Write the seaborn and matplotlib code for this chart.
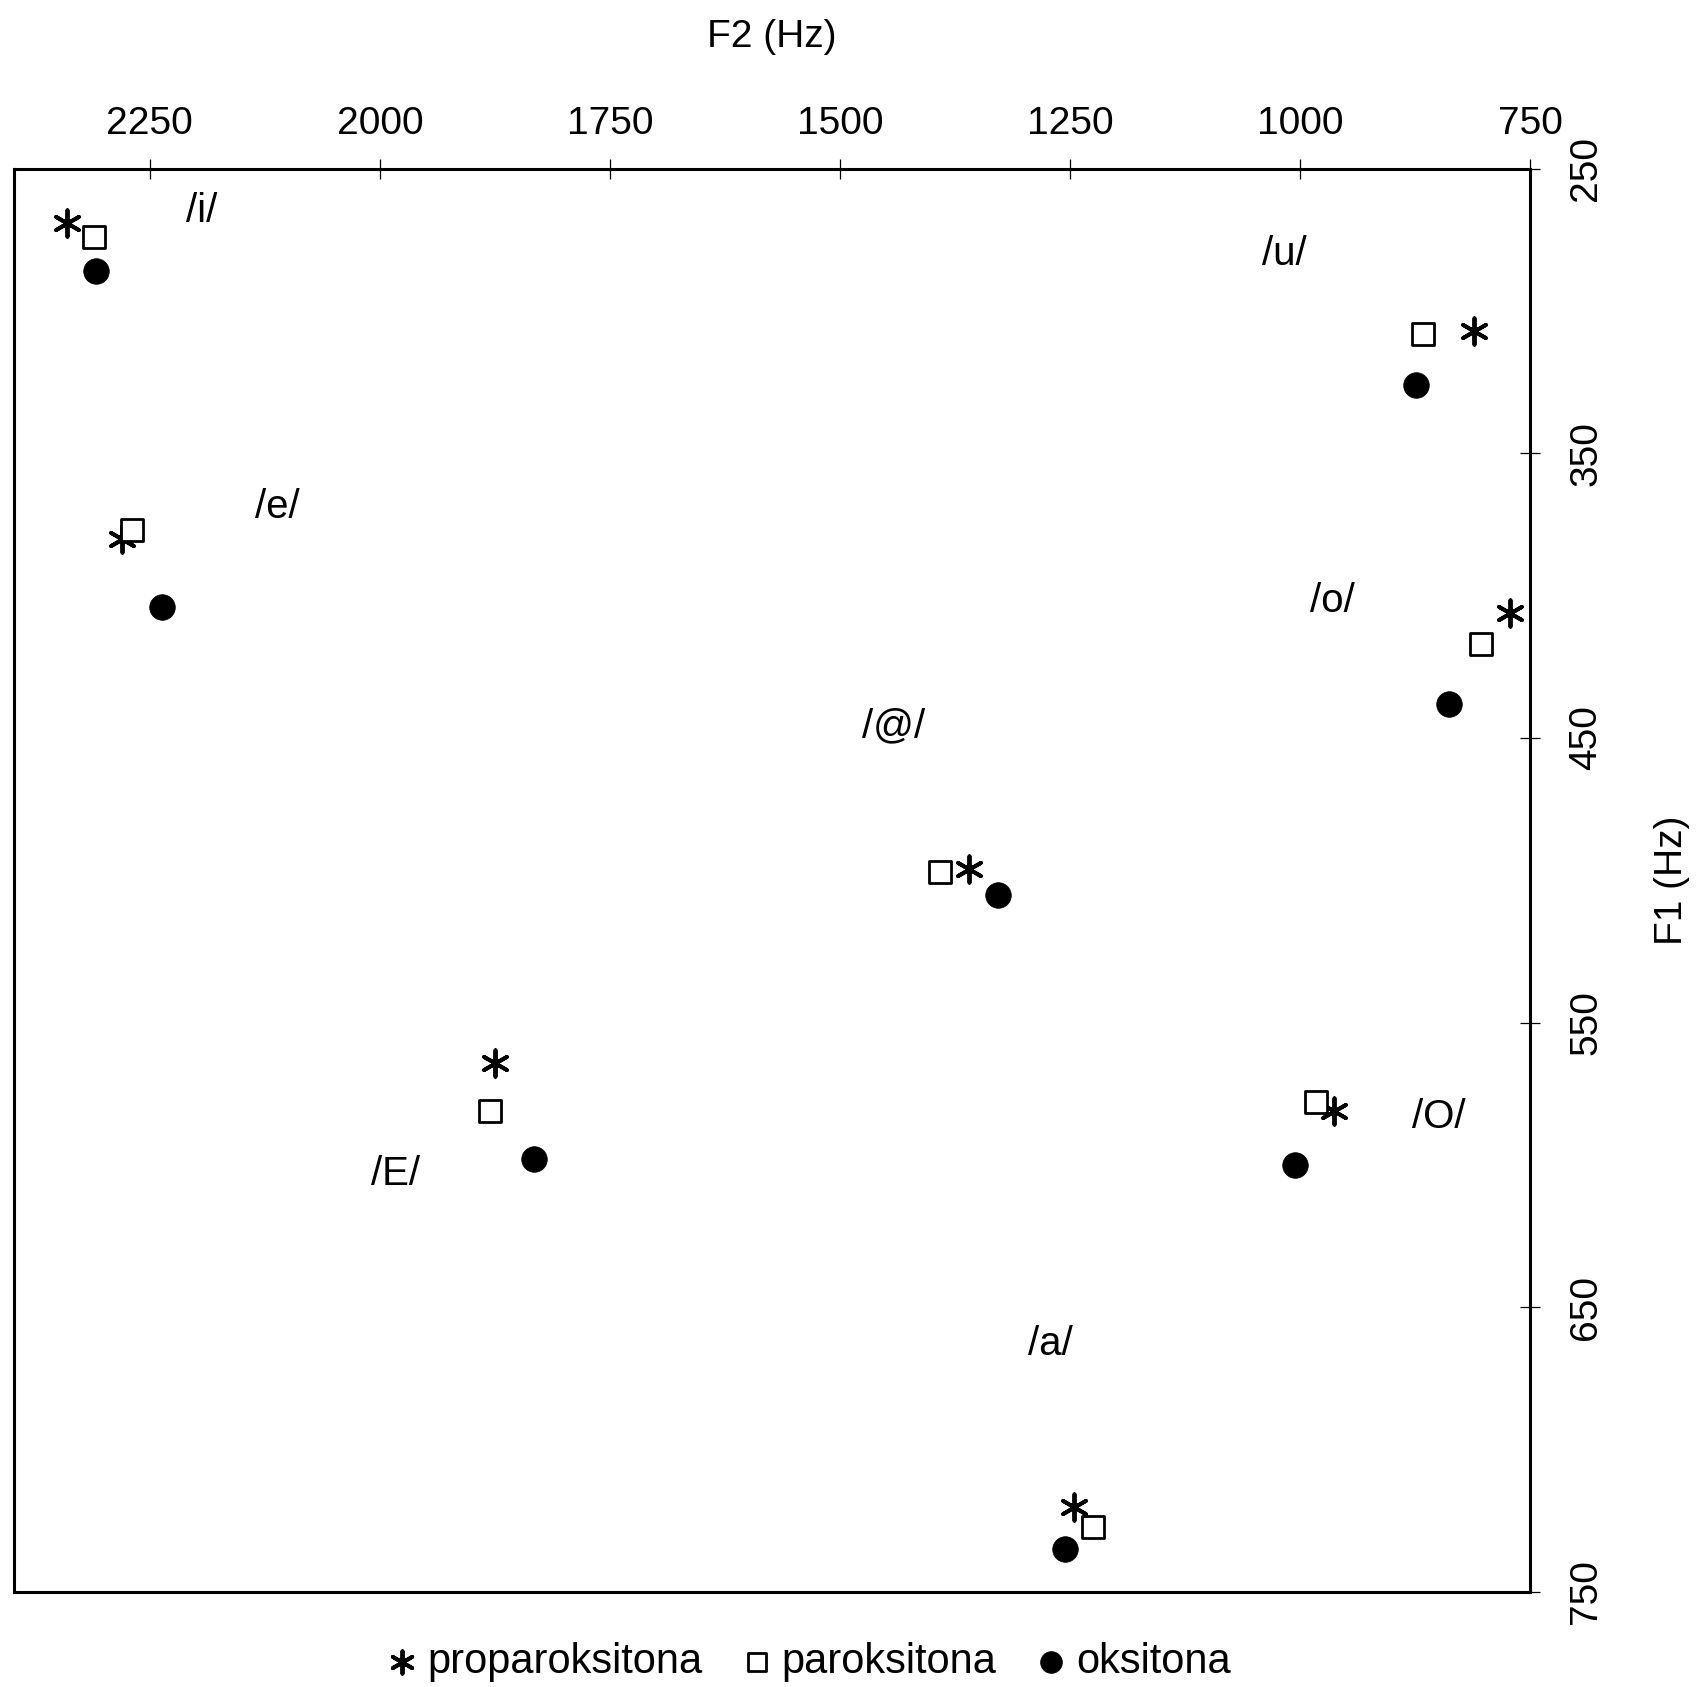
import numpy as np
import pandas as pd
import matplotlib
matplotlib.use("Agg")
import matplotlib.pyplot as plt
import seaborn as sns

# Formant data (Hz), per vowel and stress type
vowels = ["i", "e", "E", "@", "a", "O", "o", "u"]
f2_proparoksitona = [2340, 2280, 1875, 1360, 1246, 963, 772, 811]
f1_proparoksitona = [269, 380, 564, 496, 720, 581, 406, 307]
f2_paroksitona = [2311, 2269, 1880, 1391, 1225, 983, 803, 866]
f1_paroksitona = [274, 377, 581, 497, 727, 578, 417, 308]
f2_oksitona = [2308, 2237, 1832, 1328, 1256, 1006, 838, 874]
f1_oksitona = [286, 404, 598, 505, 735, 600, 438, 326]

# where the vowel labels sit
label_text = ["/i/", "/e/", "/E/", "/@/", "/a/", "/O/", "/o/", "/u/"]
label_f2 = [2194, 2112, 1983, 1442, 1271, 849, 965, 1017]
label_f1 = [265, 369, 603, 446, 663, 583, 402, 280]

x_ticks = [750, 1000, 1250, 1500, 1750, 2000, 2250]
y_ticks = [250, 350, 450, 550, 650, 750]

sns.set_theme(style="white")
plt.rcParams["font.family"] = ["Liberation Sans", "DejaVu Sans"]
plt.rcParams["text.color"] = "black"
plt.rcParams["axes.labelcolor"] = "black"
plt.rcParams["xtick.color"] = "black"
plt.rcParams["ytick.color"] = "black"

df = pd.concat([
    pd.DataFrame({"vowel": vowels, "F2": f2_proparoksitona, "F1": f1_proparoksitona, "stress": "proparoksitona"}),
    pd.DataFrame({"vowel": vowels, "F2": f2_paroksitona, "F1": f1_paroksitona, "stress": "paroksitona"}),
    pd.DataFrame({"vowel": vowels, "F2": f2_oksitona, "F1": f1_oksitona, "stress": "oksitona"}),
], ignore_index=True)

styles = {
    "proparoksitona": dict(marker=(6, 2, 0), s=360, color="black", linewidths=2.8),
    "paroksitona": dict(marker="s", s=256, facecolor="white", edgecolor="black", linewidth=2.0),
    "oksitona": dict(marker="o", s=340, color="black", edgecolor="black", linewidth=0.5),
}

fig = plt.figure(figsize=(17.04, 16.87), dpi=100)
ax = fig.add_axes([0.008, 0.0563, 0.890, 0.8437])

for stress in ["proparoksitona", "paroksitona", "oksitona"]:
    sub = df[df["stress"] == stress]
    sns.scatterplot(data=sub, x="F2", y="F1", ax=ax, label=stress, legend=False,
                    zorder=3, **styles[stress])

for t, x, y in zip(label_text, label_f2, label_f1):
    ax.text(x, y, t, ha="center", va="center", fontsize=29)

ax.set_xlim(2398, 750)
ax.set_ylim(750, 250)
ax.set_xticks(x_ticks)
ax.set_yticks(y_ticks)

ax.xaxis.set_label_position("top")
ax.xaxis.tick_top()
ax.yaxis.set_label_position("right")
ax.yaxis.tick_right()
ax.set_xlabel("F2 (Hz)", fontsize=28, labelpad=42)
ax.set_ylabel("F1 (Hz)", fontsize=28, labelpad=36, rotation=90)

ax.tick_params(axis="both", direction="inout", length=15, width=0.9,
               labelsize=28, color="black", labelcolor="black")
ax.tick_params(axis="x", bottom=False, top=True, pad=12)
ax.tick_params(axis="y", left=False, right=True, pad=20)
plt.setp(ax.get_yticklabels(), rotation=90, va="center")

for sp in ax.spines.values():
    sp.set_linewidth(2.2)
    sp.set_color("black")

handles, labels = ax.get_legend_handles_labels()
fig.legend(handles, labels, loc="lower center", bbox_to_anchor=(0.473, -0.019),
           ncol=3, frameon=False, fontsize=30, markerscale=0.85,
           handletextpad=0.1, columnspacing=0.8, handlelength=1.0)

fig.savefig("out.png", dpi=100, facecolor="white")
